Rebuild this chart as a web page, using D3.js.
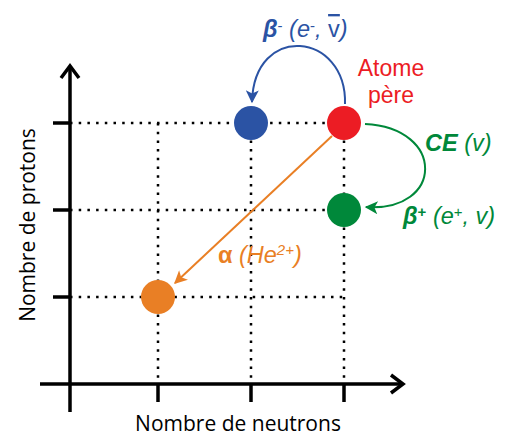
<!DOCTYPE html>
<html>
<head>
<meta charset="utf-8">
<script src="https://cdn.jsdelivr.net/npm/d3@7"></script>
<style>
body { margin: 0; background: #fff; }
</style>
</head>
<body>
<div class="chart"></div>
<script>
const width = 506,
	height = 437

// tick positions (neutrons / protons)
const neutronTicks = [1, 2, 3]
const protonTicks = [1, 2, 3]

// nuclei: N, Z, colour
const nucleiNames = ['alpha', 'betaMinus', 'parent', 'betaPlus']
const nucleiN = [1, 2, 3, 3]
const nucleiZ = [1, 3, 3, 2]
const nucleiColors = ['#e97f25', '#2b53a4', '#ec1c24', '#00883a']

const svg = d3
	.select('.chart')
	.append('svg')
	.attr('width', width)
	.attr('height', height)

const x = d3.scaleLinear().domain([1, 3]).range([158, 344])
const y = d3.scaleLinear().domain([0, 3]).range([384, 123])

const axisX0 = 70

const defs = svg.append('defs')
// filled arrowheads for the decay arrows
function bigMarker(id, color) {
	defs
		.append('marker')
		.attr('id', id)
		.attr('viewBox', '0 0 10 10')
		.attr('refX', 9)
		.attr('refY', 5)
		.attr('markerWidth', 14)
		.attr('markerHeight', 13)
		.attr('markerUnits', 'userSpaceOnUse')
		.attr('orient', 'auto')
		.append('path')
		.attr('d', 'M0,0 L10,5 L0,10 L2.5,5 Z')
		.attr('fill', color)
}
bigMarker('m-blue', nucleiColors[1])
bigMarker('m-green', nucleiColors[3])
bigMarker('m-orange', nucleiColors[0])

// dotted grid
const grid = svg.append('g').attr('stroke', '#000').attr('stroke-width', 2.5)
	.attr('stroke-dasharray', '2.5,6.2')
protonTicks.forEach(z => {
	grid.append('line')
		.attr('x1', axisX0).attr('x2', x(3))
		.attr('y1', y(z)).attr('y2', y(z))
})
neutronTicks.forEach(n => {
	grid.append('line')
		.attr('x1', x(n)).attr('x2', x(n))
		.attr('y1', y(3)).attr('y2', y(0))
})

// axes
const axes = svg.append('g').attr('stroke', '#000').attr('stroke-width', 3.5)
	.attr('fill', 'none')
axes.append('line').attr('x1', 40).attr('x2', 402).attr('y1', y(0)).attr('y2', y(0))
axes.append('line').attr('x1', axisX0).attr('x2', axisX0).attr('y1', 412).attr('y2', 66)
axes.append('path').attr('d', `M${axisX0 - 9},${78} L${axisX0},${66} L${axisX0 + 9},${78}`)
axes.append('path').attr('d', `M391,${y(0) - 9} L403,${y(0)} L391,${y(0) + 9}`)
neutronTicks.forEach(n => {
	axes.append('line').attr('x1', x(n)).attr('x2', x(n)).attr('y1', y(0)).attr('y2', y(0) + 18)
})
protonTicks.forEach(z => {
	axes.append('line').attr('x1', axisX0 - 17).attr('x2', axisX0).attr('y1', y(z)).attr('y2', y(z))
})

// axis titles
svg.append('text')
	.attr('x', 238)
	.attr('y', 431)
	.attr('text-anchor', 'middle')
	.style('font-family', 'Open Sans, sans-serif')
	.style('font-size', '21px')
	.text('Nombre de neutrons')

svg.append('text')
	.attr('transform', `translate(35,225) rotate(-90)`)
	.attr('text-anchor', 'middle')
	.style('font-family', 'Open Sans, sans-serif')
	.style('font-size', '21px')
	.text('Nombre de protons')

// transitions
const idx = name => nucleiNames.indexOf(name)
const px = name => x(nucleiN[idx(name)])
const py = name => y(nucleiZ[idx(name)])

// beta- : parent -> blue
svg.append('path')
	.attr('d', `M${px('parent') + 1},${py('parent') - 19} C${px('parent') + 3},${32} ${px('betaMinus') + 3},${22} ${px('betaMinus') + 1},${py('betaMinus') - 21}`)
	.attr('fill', 'none')
	.attr('stroke', nucleiColors[1])
	.attr('stroke-width', 2)
	.attr('marker-end', 'url(#m-blue)')

// CE / beta+ : parent -> green
svg.append('path')
	.attr('d', `M${px('parent') + 21},${py('parent') + 1} C${px('parent') + 102},${py('parent') + 5} ${px('parent') + 100},${py('betaPlus') + 2} ${px('betaPlus') + 22},${py('betaPlus') - 3}`)
	.attr('fill', 'none')
	.attr('stroke', nucleiColors[3])
	.attr('stroke-width', 2)
	.attr('marker-end', 'url(#m-green)')

// alpha : parent -> orange
svg.append('line')
	.attr('x1', px('parent') - 12).attr('y1', py('parent') + 13)
	.attr('x2', px('alpha') + 17).attr('y2', py('alpha') - 14)
	.attr('stroke', nucleiColors[0])
	.attr('stroke-width', 2)
	.attr('marker-end', 'url(#m-orange)')

// nuclei
svg.selectAll('circle.nucleus')
	.data(nucleiNames)
	.enter()
	.append('circle')
	.attr('class', 'nucleus')
	.attr('cx', (d, i) => x(nucleiN[i]))
	.attr('cy', (d, i) => y(nucleiZ[i]))
	.attr('r', 17)
	.attr('fill', (d, i) => nucleiColors[i])

// labels
const lab = (tx, ty, color) => svg.append('text')
	.attr('x', tx).attr('y', ty)
	.attr('fill', color)
	.style('font-family', 'Liberation Sans, Arial, sans-serif')
	.style('font-size', '23.5px')

const bm = lab(263, 37, nucleiColors[1])
bm.append('tspan').attr('font-weight', 'bold').attr('font-style', 'italic').text('β')
bm.append('tspan').attr('font-size', '15px').attr('dy', -6).text('-')
bm.append('tspan').attr('dy', 6).attr('font-style', 'italic').text(' (e')
bm.append('tspan').attr('font-size', '15px').attr('dy', -6).text('-')
bm.append('tspan').attr('dy', 6).attr('font-style', 'italic').text(', ')
bm.append('tspan').style('text-decoration', 'overline').text('v')
bm.append('tspan').attr('font-style', 'italic').text(')')

const at = lab(391, 76, nucleiColors[2]).attr('text-anchor', 'middle').style('font-size', '23px')
at.append('tspan').attr('x', 391).text('Atome')
at.append('tspan').attr('x', 391).attr('dy', 27).text('père')

const ce = lab(425, 151, nucleiColors[3])
ce.append('tspan').attr('font-weight', 'bold').attr('font-style', 'italic').text('CE')
ce.append('tspan').attr('font-style', 'italic').text(' (v)')

const bp = lab(403, 224, nucleiColors[3])
bp.append('tspan').attr('font-weight', 'bold').attr('font-style', 'italic').text('β')
bp.append('tspan').attr('font-weight', 'bold').attr('font-size', '15px').attr('dy', -7).text('+')
bp.append('tspan').attr('dy', 7).attr('font-style', 'italic').text(' (e')
bp.append('tspan').attr('font-size', '15px').attr('dy', -7).text('+')
bp.append('tspan').attr('dy', 7).attr('font-style', 'italic').text(', v)')

const al = lab(218, 263, nucleiColors[0])
al.append('tspan').attr('font-weight', 'bold').text('α')
al.append('tspan').attr('font-style', 'italic').text(' (He')
al.append('tspan').attr('font-style', 'italic').attr('font-size', '15px').attr('dy', -8).text('2+')
al.append('tspan').attr('font-style', 'italic').attr('dy', 8).text(')')
</script>
</body>
</html>
